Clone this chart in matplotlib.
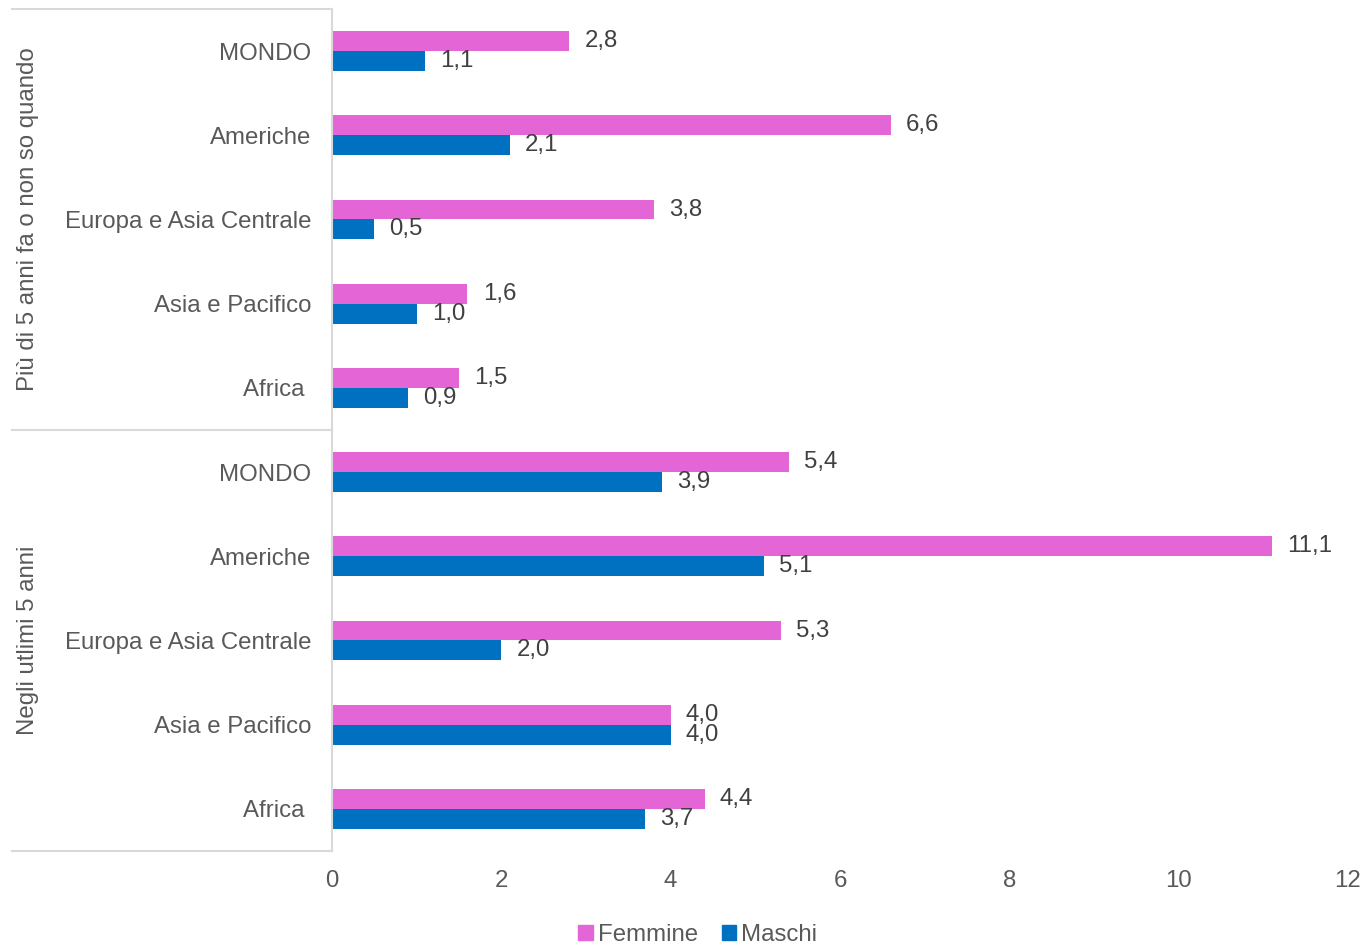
import matplotlib.pyplot as plt
from matplotlib.patches import Patch

plt.rcParams['font.family'] = ['Liberation Sans', 'DejaVu Sans']

regions = ["MONDO", "Americhe", "Europa e Asia Centrale", "Asia e Pacifico", "Africa "]
groups = ["Più di 5 anni fa o non so quando", "Negli utlimi 5 anni"]
femmine_old = [2.8, 6.6, 3.8, 1.6, 1.5]
maschi_old = [1.1, 2.1, 0.5, 1.0, 0.9]
femmine_new = [5.4, 11.1, 5.3, 4.0, 4.4]
maschi_new = [3.9, 5.1, 2.0, 4.0, 3.7]

pink = "#E466D6"
blue = "#0070C0"
text_col = "#595959"
line_col = "#D9D9D9"
fs = 17.3

labels = regions + regions
fem = femmine_old + femmine_new
mas = maschi_old + maschi_new
ypos = list(range(len(labels)))

fig = plt.figure(figsize=(13.68, 9.47), dpi=100)
ax = fig.add_axes([332/1368, 1 - 851/947, 1016/1368, 842/947])

h = 0.237
ax.barh([y - h/2 for y in ypos], fem, height=h, color=pink)
ax.barh([y + h/2 for y in ypos], mas, height=h, color=blue)

def fmt(v):
    return f"{v:.1f}".replace('.', ',')

for y, v in zip(ypos, fem):
    ax.annotate(fmt(v), (v, y - h/2), xytext=(11, 0), textcoords='offset points',
                ha='left', va='center', fontsize=fs, color="#404040")
for y, v in zip(ypos, mas):
    ax.annotate(fmt(v), (v, y + h/2), xytext=(11, 0), textcoords='offset points',
                ha='left', va='center', fontsize=fs, color="#404040")

ax.set_xlim(0, 12)
ax.set_ylim(len(labels) - 0.5, -0.5)
ax.set_xticks(range(0, 13, 2))
ax.set_yticks(ypos)
ax.set_yticklabels(labels)
ax.tick_params(axis='y', length=0, pad=15, labelsize=fs, labelcolor=text_col)
ax.tick_params(axis='x', length=0, pad=14, labelsize=fs, labelcolor=text_col)

for s in ['top', 'right', 'bottom']:
    ax.spines[s].set_visible(False)
ax.spines['left'].set_color(line_col)
ax.spines['left'].set_linewidth(1.5)

# group brackets on the left side
trans = ax.get_yaxis_transform()
x0 = (12 - 332) / 1016
for yb in [-0.5, 4.5, 9.5]:
    ax.plot([x0, 0], [yb, yb], transform=trans, color=line_col, lw=1.5, clip_on=False)
for g, yc in zip(groups, [2, 7]):
    ax.text((28 - 332) / 1016, yc, g, transform=trans, rotation=90, ha='center',
            va='center', fontsize=fs, color=text_col)

handles = [Patch(color=pink, label="Femmine"), Patch(color=blue, label="Maschi")]
fig.legend(handles=handles, loc='lower center', bbox_to_anchor=(0.51, -0.022), ncol=2,
           frameon=False, fontsize=fs, handlelength=0.6, handleheight=0.6,
           handletextpad=0.2, columnspacing=1.0, labelcolor=text_col)

fig.savefig("out.png", dpi=100)
